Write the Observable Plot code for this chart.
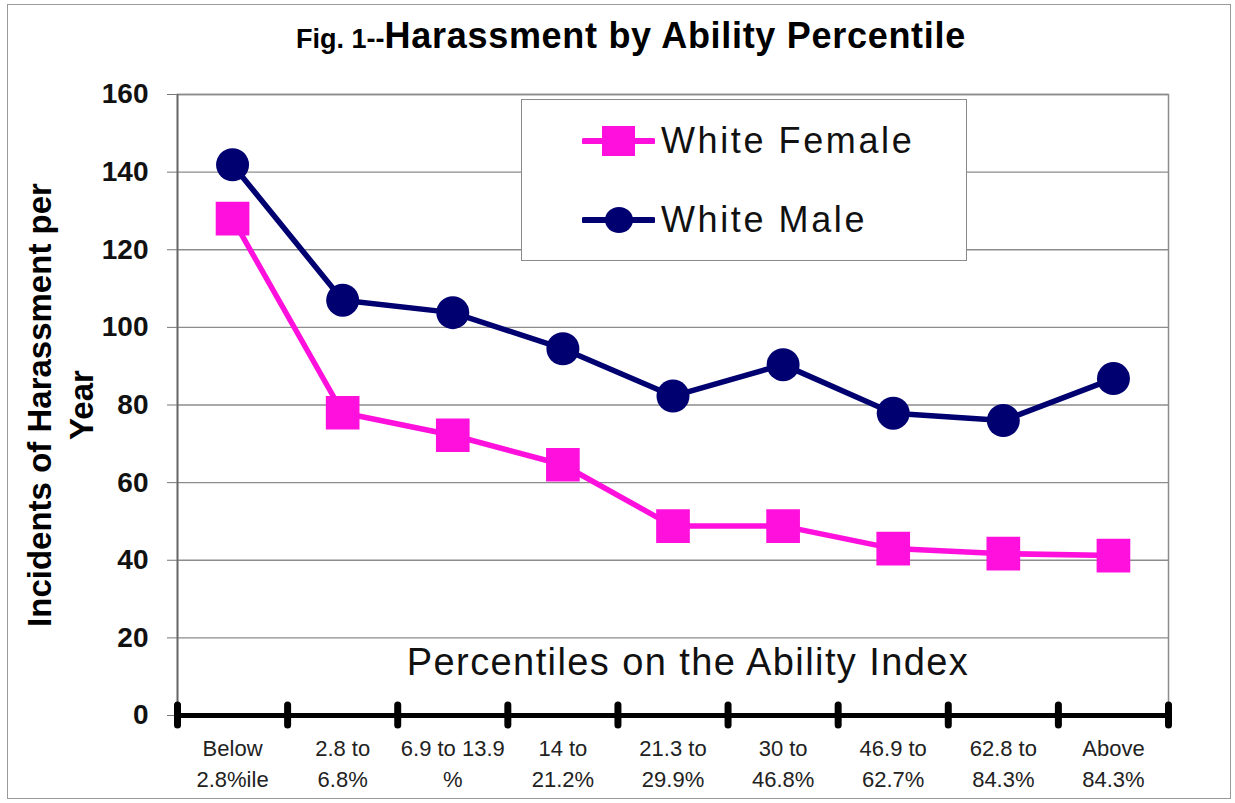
<!DOCTYPE html>
<html>
<head>
<meta charset="utf-8">
<script src="https://cdn.jsdelivr.net/npm/d3@7"></script>
<script src="https://cdn.jsdelivr.net/npm/@observablehq/plot@0.6"></script>
<style>
  html, body { margin: 0; padding: 0; background: #fff; }
  body { font-family: "Liberation Sans", Arial, sans-serif; }
  #wrap { position: relative; width: 1235px; height: 803px; overflow: hidden; }
  #border { position: absolute; left: 7px; top: 4px; width: 1224px; height: 795px; border: 1.5px solid #9a9a9a; box-sizing: border-box; }
  #title { position: absolute; left: 0; top: 15px; width: 1262px; text-align: center; font-weight: bold; color: #000; white-space: nowrap; }
  #title .small { font-size: 27px; }
  #title .big { font-size: 36px; letter-spacing: 0.7px; }
  #chart { position: absolute; left: 0; top: 60px; }
  #ylabel { position: absolute; left: 61px; top: 405px; transform: translate(-50%, -50%) rotate(-90deg); text-align: center; font-weight: bold; font-size: 33px; line-height: 42px; white-space: nowrap; color: #000; }
  #xtitle { position: absolute; left: 688px; top: 662px; transform: translate(-50%, -50%); font-size: 38px; letter-spacing: 1.4px; white-space: nowrap; color: #111; }
  #legend { position: absolute; left: 521px; top: 99px; width: 446px; height: 162px; border: 1.5px solid #8a8a8a; box-sizing: border-box; background: #fff; }
  .lrow { position: absolute; left: 60px; height: 40px; display: flex; align-items: center; }
  .lrow svg { display: block; }
  .lrow span { font-size: 36px; letter-spacing: 2.6px; color: #111; margin-left: 6px; white-space: nowrap; }
</style>
</head>
<body>
<div id="wrap">
  <div id="border"></div>
  <div id="title"><span class="small">Fig. 1--</span><span class="big">Harassment by Ability Percentile</span></div>
  <div id="chart"></div>
  <div id="ylabel">Incidents of Harassment per<br>Year</div>
  <div id="xtitle">Percentiles on the Ability Index</div>
  <div id="legend"></div>
</div>
<script>
// ---- data ----
const categories = [
  "Below\n2.8%ile",
  "2.8 to\n6.8%",
  "6.9 to 13.9\n%",
  "14 to\n21.2%",
  "21.3 to\n29.9%",
  "30 to\n46.8%",
  "46.9 to\n62.7%",
  "62.8 to\n84.3%",
  "Above\n84.3%"
];
const seriesNames = ["White Female", "White Male"];
const whiteFemale = [128, 78, 72.2, 64.6, 48.8, 48.8, 43, 41.7, 41.2];
const whiteMale = [141.9, 107, 103.8, 94.5, 82.3, 90.4, 77.9, 76, 86.8];
const yTicks = [0, 20, 40, 60, 80, 100, 120, 140, 160];

const femaleColor = "#ff10dc";
const maleColor = "#000070";

// ---- table ----
const rows = [];
categories.forEach((c, i) => {
  rows.push({pos: i + 0.5, cat: c, series: seriesNames[0], value: whiteFemale[i]});
  rows.push({pos: i + 0.5, cat: c, series: seriesNames[1], value: whiteMale[i]});
});
const femaleRows = rows.filter(d => d.series === seriesNames[0]);
const maleRows = rows.filter(d => d.series === seriesNames[1]);
const centers = categories.map((c, i) => i + 0.5);
const boundaries = d3.range(categories.length + 1);

const font = "'Liberation Sans', Arial, sans-serif";

const chart = Plot.plot({
  width: 1235,
  height: 743,
  marginTop: 34,
  marginBottom: 88,
  marginLeft: 177,
  marginRight: 67,
  style: {fontFamily: font, background: "transparent", overflow: "visible"},
  x: {domain: [0, categories.length], axis: null},
  y: {domain: [0, 160], axis: null},
  marks: [
    Plot.gridY(yTicks, {stroke: "#8c8c8c", strokeOpacity: 1, strokeWidth: 1.3}),
    Plot.frame({stroke: "#8c8c8c", strokeWidth: 1.5}),
    Plot.ruleX([0], {stroke: "#666", strokeWidth: 1.8}),
    Plot.axisY({ticks: yTicks, tickSize: 10, tickPadding: 19, stroke: "#777", fontSize: 28, fontWeight: "bold", fill: "#111", label: null}),
    Plot.axisX({ticks: centers, tickFormat: v => categories[Math.round(v - 0.5)], tickSize: 0, tickPadding: 18, fontSize: 22, lineHeight: 1.42, fill: "#222", label: null}),
    Plot.ruleY([0], {stroke: "#000", strokeWidth: 5}),
    Plot.ruleX(boundaries, {y1: 0, y2: 0, insetTop: -10, insetBottom: -10, stroke: "#000", strokeWidth: 7, strokeLinecap: "round"}),
    Plot.line(femaleRows, {x: "pos", y: "value", stroke: femaleColor, strokeWidth: 5.5}),
    Plot.dot(femaleRows, {x: "pos", y: "value", symbol: "square", r: 19, fill: femaleColor, stroke: "none"}),
    Plot.line(maleRows, {x: "pos", y: "value", stroke: maleColor, strokeWidth: 5.5}),
    Plot.dot(maleRows, {x: "pos", y: "value", symbol: "circle", r: 16.5, fill: maleColor, stroke: "none"})
  ]
});
document.getElementById("chart").appendChild(chart);

// ---- legend ----
const legend = document.getElementById("legend");
const legendItems = [
  {name: seriesNames[0], color: femaleColor, shape: "square", top: 21},
  {name: seriesNames[1], color: maleColor, shape: "circle", top: 100}
];
legendItems.forEach(item => {
  const row = document.createElement("div");
  row.className = "lrow";
  row.style.top = item.top + "px";
  const ns = "http://www.w3.org/2000/svg";
  const svg = document.createElementNS(ns, "svg");
  svg.setAttribute("width", 73);
  svg.setAttribute("height", 40);
  const ln = document.createElementNS(ns, "line");
  ln.setAttribute("x1", 2); ln.setAttribute("x2", 71);
  ln.setAttribute("y1", 20); ln.setAttribute("y2", 20);
  ln.setAttribute("stroke", item.color);
  ln.setAttribute("stroke-width", 6);
  ln.setAttribute("stroke-linecap", "round");
  svg.appendChild(ln);
  if (item.shape === "square") {
    const r = document.createElementNS(ns, "rect");
    r.setAttribute("x", 20); r.setAttribute("y", 5);
    r.setAttribute("width", 33); r.setAttribute("height", 30);
    r.setAttribute("fill", item.color);
    svg.appendChild(r);
  } else {
    const c = document.createElementNS(ns, "ellipse");
    c.setAttribute("cx", 37); c.setAttribute("cy", 20);
    c.setAttribute("rx", 14); c.setAttribute("ry", 13);
    c.setAttribute("fill", item.color);
    svg.appendChild(c);
  }
  row.appendChild(svg);
  const label = document.createElement("span");
  label.textContent = item.name;
  row.appendChild(label);
  legend.appendChild(row);
});
</script>
</body>
</html>
